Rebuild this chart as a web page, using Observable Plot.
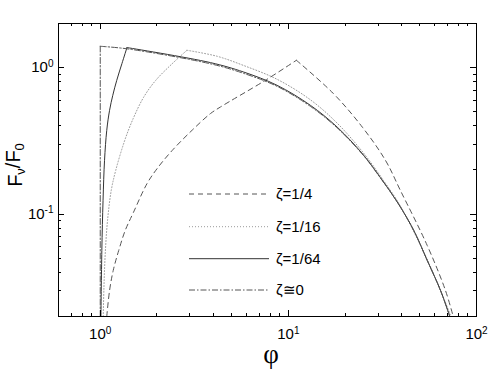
<!DOCTYPE html>
<html><head><meta charset="utf-8">
<script src="https://cdn.jsdelivr.net/npm/d3@7"></script>
<script src="https://cdn.jsdelivr.net/npm/@observablehq/plot@0.6"></script>
<style>html,body{margin:0;padding:0;background:#fff}#chart svg{display:block}</style>
</head><body><div id="chart"></div>
<script>
// Series names (legend)
const seriesNames = ["ζ=1/4", "ζ=1/16", "ζ=1/64", "ζ≅0"];

// ζ = 1/4 (dashed)
const phiQ4 = [1.083, 1.121, 1.172, 1.254, 1.358, 1.504, 1.772, 2.01, 2.415, 3.074, 3.85, 4.35, 7.55, 11.03, 17.35, 24.7, 32.8, 39.4, 54.7, 68.4, 75.2];
const fluxQ4 = [0.02, 0.0301, 0.0412, 0.0565, 0.0774, 0.1032, 0.1613, 0.2052, 0.2723, 0.373, 0.485, 0.538, 0.819, 1.122, 0.665, 0.393, 0.233, 0.145, 0.0611, 0.0301, 0.02];

// ζ = 1/16 (dotted)
const phiQ16 = [1.0374, 1.0464, 1.063, 1.0935, 1.144, 1.209, 1.35, 1.498, 1.704, 1.973, 2.415, 2.89, 4.18, 5.78, 8.71, 13.09, 18.16, 25.15, 32.1, 39.4, 55.9, 73.2];
const fluxQ16 = [0.02, 0.0317, 0.0536, 0.0906, 0.145, 0.199, 0.319, 0.450, 0.630, 0.819, 1.065, 1.313, 1.195, 1.034, 0.832, 0.603, 0.418, 0.260, 0.169, 0.1134, 0.046, 0.02];

// ζ = 1/64 (solid)
const phiQ64 = [1.0086, 1.0198, 1.035, 1.054, 1.083, 1.121, 1.166, 1.224, 1.304, 1.387, 3.85, 5.78, 8.71, 13.09, 18.16, 25.15, 30.8, 37.9, 46.4, 54.7, 64.4, 72.1];
const fluxQ64 = [0.02, 0.0565, 0.124, 0.233, 0.373, 0.511, 0.647, 0.819, 1.065, 1.37, 1.082, 0.933, 0.757, 0.553, 0.393, 0.252, 0.178, 0.121, 0.0774, 0.0483, 0.0301, 0.02];

// ζ ≅ 0 (dash-dot)
const phiQ0 = [1, 1, 1.387, 3.85, 5.78, 8.71, 13.09, 18.16, 25.15, 30.8, 37.9, 46.4, 54.7, 64.4, 72.1];
const fluxQ0 = [0.02, 1.398, 1.344, 1.062, 0.914, 0.745, 0.544, 0.388, 0.25, 0.177, 0.121, 0.0774, 0.0483, 0.0301, 0.02];

// Axis ticks
const xMajorTicks = [1, 10];
const xTickValues = [1, 10, 100];
const xTickLabels = ["10^0", "10^1", "10^2"];
const xMinorTicks = [0.7, 0.8, 0.9, 2, 3, 4, 5, 6, 7, 8, 9, 20, 30, 40, 50, 60, 70, 80, 90];
const yMajorTicks = [0.1, 1];
const yTickLabels = ["10^-1", "10^0"];
const yMinorTicks = [0.03, 0.04, 0.05, 0.06, 0.07, 0.08, 0.09, 0.2, 0.3, 0.4, 0.5, 0.6, 0.7, 0.8, 0.9];

const styles = [
  {stroke: "#555", dash: "5,4"},
  {stroke: "#9a9a9a", dash: "1,2"},
  {stroke: "#333", dash: null},
  {stroke: "#555", dash: "6,2,1.5,2"}
];
const seriesPhi = [phiQ4, phiQ16, phiQ64, phiQ0];
const seriesFlux = [fluxQ4, fluxQ16, fluxQ64, fluxQ0];
const tables = seriesPhi.map((ph, k) => ph.map((p, i) => ({phi: p, F: seriesFlux[k][i]})));

const W = 491, H = 372, mT = 23, mR = 15, mB = 56, mL = 58;

function lineMarks(t, k) {
  const im = d3.maxIndex(t, d => d.F);
  const rise = t.slice(0, im + 1), fall = t.slice(im);
  const riseCurve = new Set(rise.map(d => d.phi)).size === rise.length ? "catmull-rom" : "linear";
  const o = {x: "phi", y: "F", stroke: styles[k].stroke, strokeDasharray: styles[k].dash, strokeWidth: 1, clip: true};
  return [Plot.line(rise, {...o, curve: riseCurve}), Plot.line(fall, {...o, curve: "catmull-rom"})];
}

const chart = Plot.plot({
  width: W, height: H,
  marginTop: mT, marginRight: mR, marginBottom: mB, marginLeft: mL,
  style: {fontFamily: "'Liberation Sans', Arial, sans-serif", fontSize: "15px", background: "#fff", color: "#000"},
  x: {type: "log", domain: [0.6, 100], axis: null},
  y: {type: "log", domain: [0.02, 2], axis: null},
  marks: [
    ...tables.flatMap((t, k) => lineMarks(t, k)),
    Plot.frame({stroke: "#000", strokeWidth: 1}),
    Plot.text(xTickValues, {x: d => d, frameAnchor: "bottom", text: (d, i) => xTickLabels[i], lineAnchor: "top", dy: 12, fontSize: 15}),
    Plot.text(yMajorTicks, {y: d => d, frameAnchor: "left", text: (d, i) => yTickLabels[i], textAnchor: "end", dx: -5, fontSize: 15})
  ]
});
document.getElementById("chart").appendChild(chart);

const svg = d3.select(chart);
const sx = chart.scale("x"), sy = chart.scale("y");
const x0 = mL, x1 = W - mR, y0 = mT, y1 = H - mB;

// inward ticks on all four sides, positioned by Plot's scales
const tg = svg.append("g").attr("stroke", "#000").attr("stroke-width", 1);
function xt(vals, len) {
  vals.forEach(v => {
    const px = Math.round(sx.apply(v)) + 0.5;
    tg.append("line").attr("x1", px).attr("x2", px).attr("y1", y1).attr("y2", y1 - len);
    tg.append("line").attr("x1", px).attr("x2", px).attr("y1", y0).attr("y2", y0 + len);
  });
}
function yt(vals, len) {
  vals.forEach(v => {
    const py = Math.round(sy.apply(v)) + 0.5;
    tg.append("line").attr("y1", py).attr("y2", py).attr("x1", x0).attr("x2", x0 + len);
    tg.append("line").attr("y1", py).attr("y2", py).attr("x1", x1).attr("x2", x1 - len);
  });
}
xt(xMajorTicks, 6); xt(xMinorTicks, 3);
yt(yMajorTicks, 6); yt(yMinorTicks, 3);

// superscripts on tick labels
svg.selectAll("text").filter(function() { return this.textContent.includes("^"); }).each(function() {
  const t = d3.select(this);
  const [b, e] = t.text().split("^");
  t.text(null);
  t.append("tspan").text(b);
  t.append("tspan").attr("dy", "-0.55em").attr("font-size", 10).text(e);
});

// Legend
const legY = [194, 226.7, 258.7, 290];
const leg = svg.append("g").attr("font-family", "'Liberation Sans', Arial, sans-serif").attr("font-size", 15).attr("text-anchor", "start");
seriesNames.forEach((name, k) => {
  leg.append("line").attr("x1", 189).attr("x2", 269).attr("y1", legY[k]).attr("y2", legY[k])
    .attr("stroke", styles[k].stroke).attr("stroke-dasharray", styles[k].dash).attr("stroke-width", 1);
  leg.append("text").attr("x", 276).attr("y", legY[k]).attr("dy", "0.35em").attr("fill", "#000").text(name);
});

// Axis titles
const yl = svg.append("text").attr("transform", "translate(22,165) rotate(-90)").attr("text-anchor", "middle")
  .attr("font-family", "'Liberation Sans', Arial, sans-serif").attr("font-size", 20).attr("fill", "#000");
yl.append("tspan").text("F");
yl.append("tspan").attr("font-size", 13).attr("dy", "0.25em").text("ν");
yl.append("tspan").attr("dy", "-0.25em").text("/F");
yl.append("tspan").attr("font-size", 13).attr("dy", "0.25em").text("0");

svg.append("text").attr("x", 271).attr("y", 363).attr("text-anchor", "middle")
  .attr("font-family", "'Liberation Serif', 'Times New Roman', serif").attr("font-size", 27).attr("fill", "#000").text("φ");
</script>
</body></html>
